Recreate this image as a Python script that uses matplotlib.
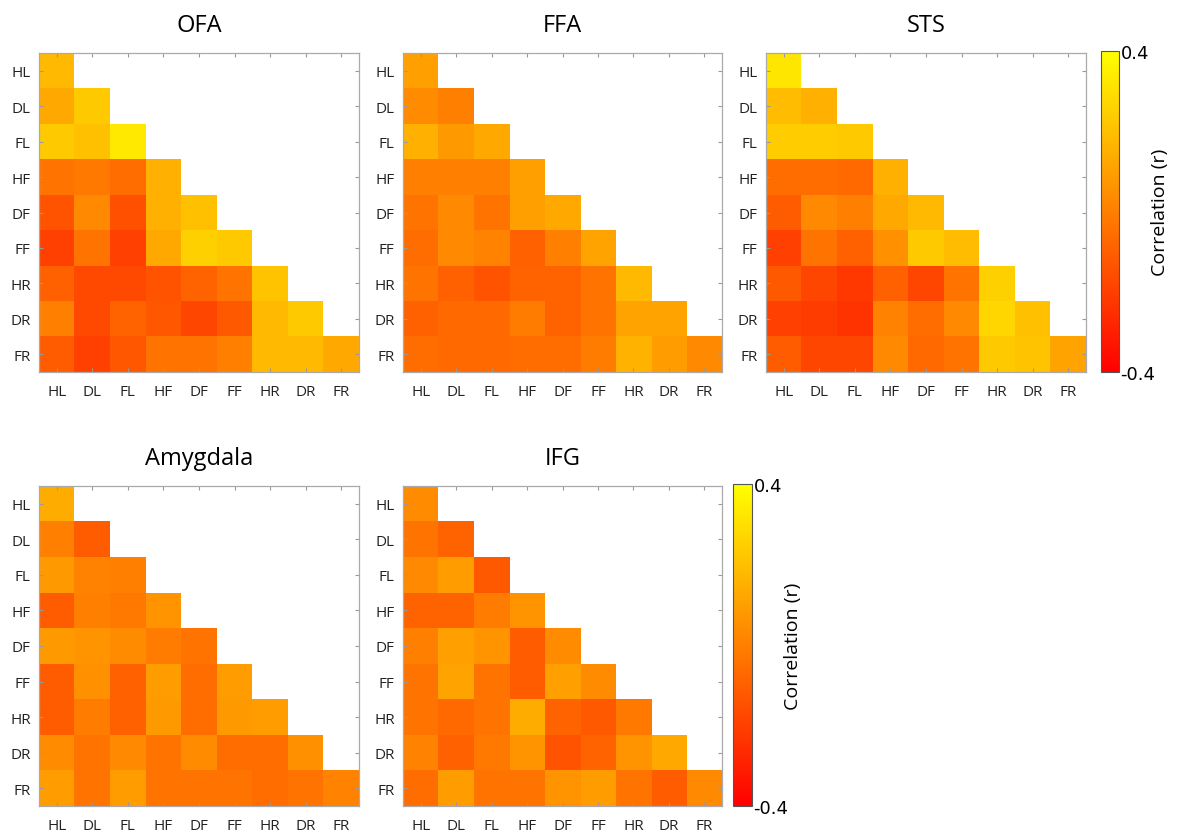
import matplotlib
matplotlib.use("Agg")
import matplotlib.pyplot as plt
import numpy as np

plt.rcParams['font.family'] = ['Open Sans', 'DejaVu Sans']

labels = ['HL', 'DL', 'FL', 'HF', 'DF', 'FF', 'HR', 'DR', 'FR']

# lower-triangle correlations, row by row
ofa = [
    [0.18],
    [0.13, 0.23],
    [0.23, 0.20, 0.33],
    [-0.04, -0.02, -0.06, 0.15],
    [-0.14, 0.03, -0.15, 0.15, 0.20],
    [-0.20, -0.04, -0.20, 0.13, 0.25, 0.23],
    [-0.10, -0.17, -0.17, -0.14, -0.09, -0.04, 0.21],
    [0.00, -0.17, -0.09, -0.13, -0.18, -0.12, 0.18, 0.23],
    [-0.11, -0.20, -0.13, -0.04, -0.04, 0.00, 0.18, 0.18, 0.13],
]
ffa = [
    [0.10],
    [0.04, 0.00],
    [0.15, 0.08, 0.13],
    [0.00, 0.00, 0.00, 0.10],
    [-0.04, 0.03, -0.04, 0.10, 0.13],
    [-0.06, 0.03, 0.01, -0.10, 0.00, 0.11],
    [-0.04, -0.10, -0.14, -0.09, -0.09, -0.04, 0.18],
    [-0.10, -0.07, -0.07, -0.01, -0.09, -0.04, 0.11, 0.11],
    [-0.06, -0.07, -0.07, -0.06, -0.06, -0.01, 0.16, 0.09, 0.03],
]
sts = [
    [0.32],
    [0.19, 0.15],
    [0.24, 0.24, 0.23],
    [-0.06, -0.06, -0.07, 0.15],
    [-0.11, 0.03, 0.00, 0.13, 0.18],
    [-0.20, -0.04, -0.10, 0.05, 0.23, 0.19],
    [-0.12, -0.18, -0.22, -0.10, -0.18, -0.04, 0.25],
    [-0.20, -0.21, -0.24, 0.01, -0.06, 0.03, 0.27, 0.20],
    [-0.11, -0.18, -0.18, 0.03, -0.07, -0.04, 0.23, 0.21, 0.11],
]
amygdala = [
    [0.14],
    [0.00, -0.11],
    [0.08, 0.01, 0.00],
    [-0.11, 0.00, -0.02, 0.06],
    [0.08, 0.06, 0.04, -0.01, -0.04],
    [-0.11, 0.05, -0.10, 0.09, -0.06, 0.09],
    [-0.11, -0.01, -0.10, 0.08, -0.06, 0.08, 0.09],
    [0.04, -0.04, 0.03, -0.04, 0.04, -0.06, -0.06, 0.05],
    [0.09, -0.04, 0.09, -0.04, -0.04, -0.04, -0.06, -0.04, 0.01],
]
ifg = [
    [0.04],
    [-0.04, -0.09],
    [0.03, 0.09, -0.12],
    [-0.09, -0.09, -0.01, 0.06],
    [0.00, 0.10, 0.06, -0.11, 0.04],
    [-0.04, 0.11, -0.04, -0.11, 0.10, 0.04],
    [-0.04, -0.07, -0.04, 0.14, -0.09, -0.12, -0.02],
    [0.01, -0.10, -0.02, 0.06, -0.14, -0.09, 0.06, 0.13],
    [-0.06, 0.09, -0.04, -0.04, 0.06, 0.09, -0.04, -0.11, 0.03],
]

regions = ['OFA', 'FFA', 'STS', 'Amygdala', 'IFG']
region_data = [ofa, ffa, sts, amygdala, ifg]

W, H = 1181, 837
fig = plt.figure(figsize=(W / 100, H / 100), dpi=100)


def px_axes(x0, y0, x1, y1):
    return fig.add_axes([x0 / W, 1 - y1 / H, (x1 - x0) / W, (y1 - y0) / H])


def to_matrix(rows):
    n = len(rows)
    m = np.full((n, n), np.nan)
    for i, r in enumerate(rows):
        m[i, :len(r)] = r
    return np.ma.masked_invalid(m)


boxes = [
    (39, 54, 359, 373),
    (403, 54, 722, 373),
    (766, 54, 1086, 373),
    (39, 487, 359, 807),
    (403, 487, 722, 807),
]

images = []
for name, rows, box in zip(regions, region_data, boxes):
    ax = px_axes(*box)
    im = ax.imshow(to_matrix(rows), cmap='autumn', vmin=-0.4, vmax=0.4,
                   aspect='auto', interpolation='nearest')
    images.append(im)
    ax.set_xticks(range(9))
    ax.set_yticks(range(9))
    ax.set_xticklabels(labels)
    ax.set_yticklabels(labels)
    ax.tick_params(direction='in', length=3, width=0.8, color='#999999',
                   top=True, right=True, labelsize=11, labelcolor='#222222')
    ax.tick_params(axis='x', pad=9)
    ax.tick_params(axis='y', pad=6)
    for s in ax.spines.values():
        s.set_color('#aaaaaa')
        s.set_linewidth(0.9)
    ax.set_title(name, fontsize=17, pad=16)

# colour bars
for box, im in [((1101, 52, 1119, 373), images[2]), ((733, 485, 752, 807), images[4])]:
    cax = px_axes(*box)
    cb = fig.colorbar(im, cax=cax, ticks=[-0.4, 0.4])
    cb.ax.set_yticklabels(['-0.4', '0.4'], family='DejaVu Sans', fontsize=13)
    cb.ax.tick_params(length=0, pad=1)
    cb.outline.set_edgecolor('#555555')
    cb.outline.set_linewidth(0.8)
    cb.set_label('Correlation (r)', fontsize=14, labelpad=-3)

fig.savefig('out.png', dpi=100, facecolor='white')
